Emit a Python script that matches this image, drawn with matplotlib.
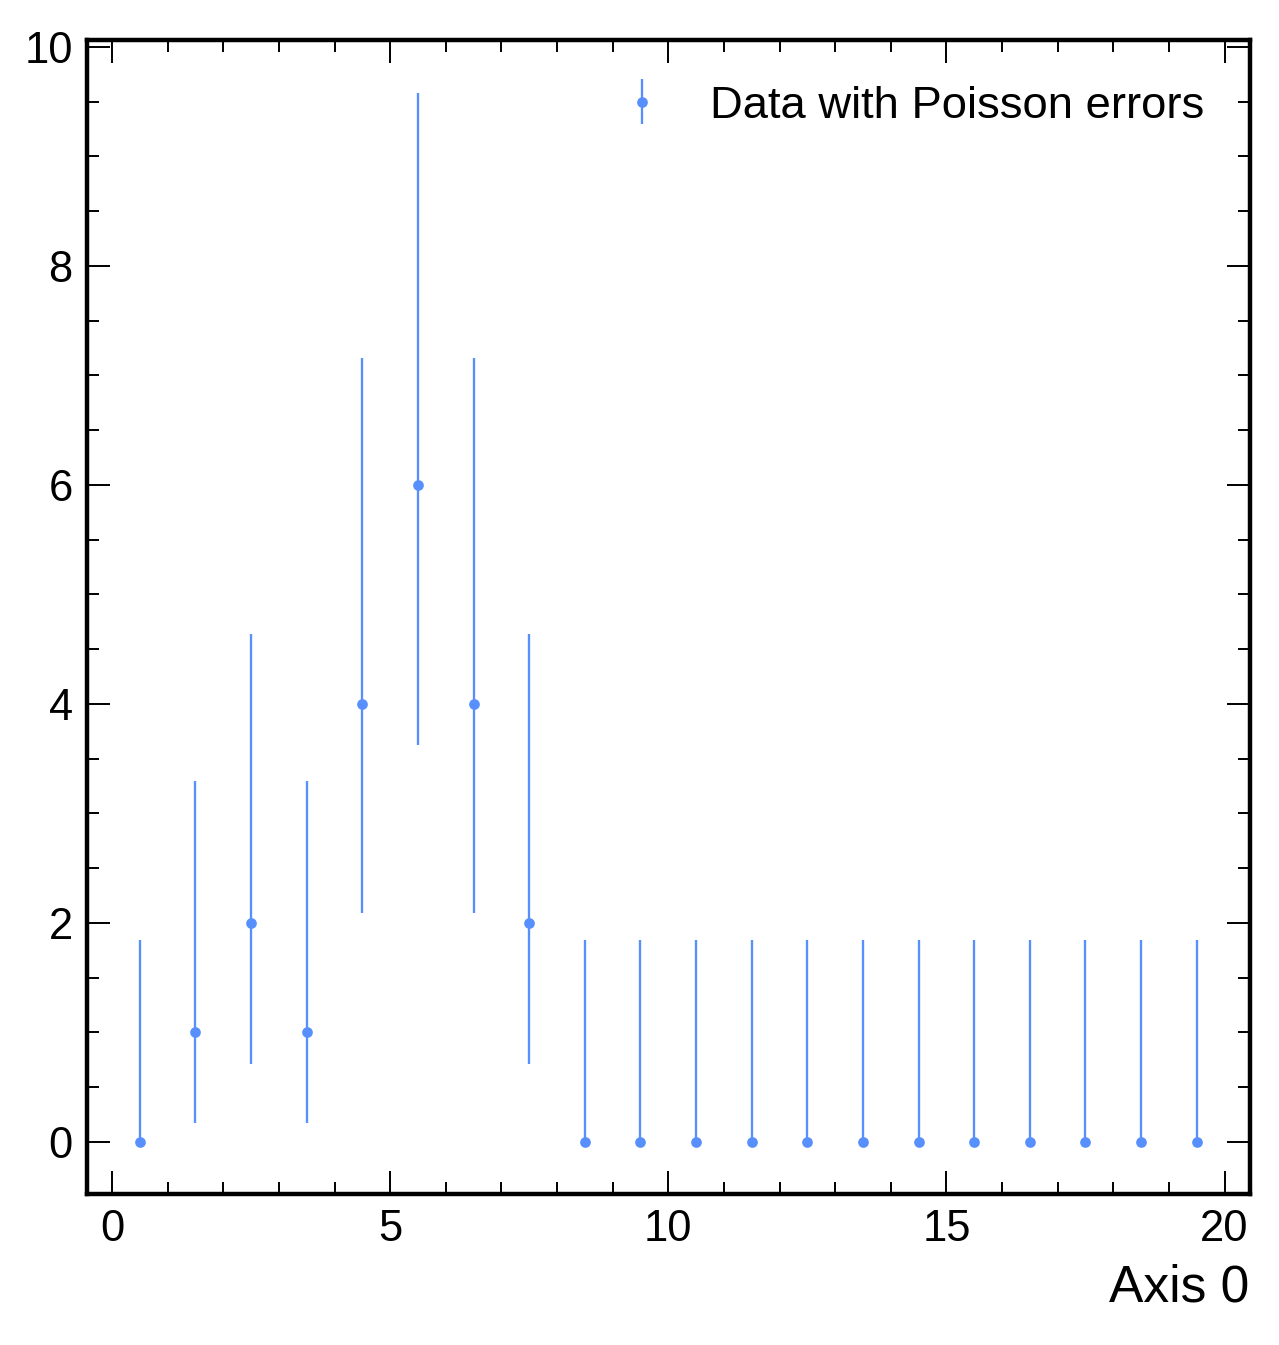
import matplotlib
matplotlib.use("Agg")
import matplotlib.pyplot as plt
from matplotlib.ticker import MultipleLocator

# bin centres and counts
centers = [0.5, 1.5, 2.5, 3.5, 4.5, 5.5, 6.5, 7.5, 8.5, 9.5,
           10.5, 11.5, 12.5, 13.5, 14.5, 15.5, 16.5, 17.5, 18.5, 19.5]
counts = [0, 1, 2, 1, 4, 6, 4, 2, 0, 0, 0, 0, 0, 0, 0, 0, 0, 0, 0, 0]
# error bar ends
err_low = [0, 0.17, 0.71, 0.17, 2.09, 3.62, 2.09, 0.71, 0, 0,
           0, 0, 0, 0, 0, 0, 0, 0, 0, 0]
err_high = [1.84, 3.30, 4.64, 3.30, 7.16, 9.58, 7.16, 4.64, 1.84, 1.84,
            1.84, 1.84, 1.84, 1.84, 1.84, 1.84, 1.84, 1.84, 1.84, 1.84]

plt.rcParams['font.family'] = ['Liberation Sans', 'DejaVu Sans']
plt.rcParams['axes.linewidth'] = 2.5

yerr = [[c - lo for c, lo in zip(counts, err_low)],
        [hi - c for c, hi in zip(counts, err_high)]]

fig = plt.figure(figsize=(1279 / 128, 1345 / 128), dpi=128)
ax = fig.add_axes([0.068, 0.112, 0.909, 0.858])

ax.errorbar(centers, counts, yerr=yerr, fmt='o', color='#5790fc',
            ms=5, elinewidth=1.3, capsize=0, label='Data with Poisson errors')

ax.xaxis.set_major_locator(MultipleLocator(5))
ax.xaxis.set_minor_locator(MultipleLocator(1))
ax.yaxis.set_major_locator(MultipleLocator(2))
ax.yaxis.set_minor_locator(MultipleLocator(0.5))
ax.tick_params(which='both', direction='in', top=True, right=True,
               labelsize=24.5)
ax.tick_params(which='major', length=13, width=1.1, pad=8)
ax.tick_params(which='minor', length=6.5, width=1.1)

ax.set_xlabel('Axis 0', fontsize=29, loc='right', labelpad=8)
ax.legend(loc='upper right', frameon=False, fontsize=25.5,
          handlelength=1.0, handletextpad=1.0, borderaxespad=0.6)

fig.savefig('out.png', dpi=128)
